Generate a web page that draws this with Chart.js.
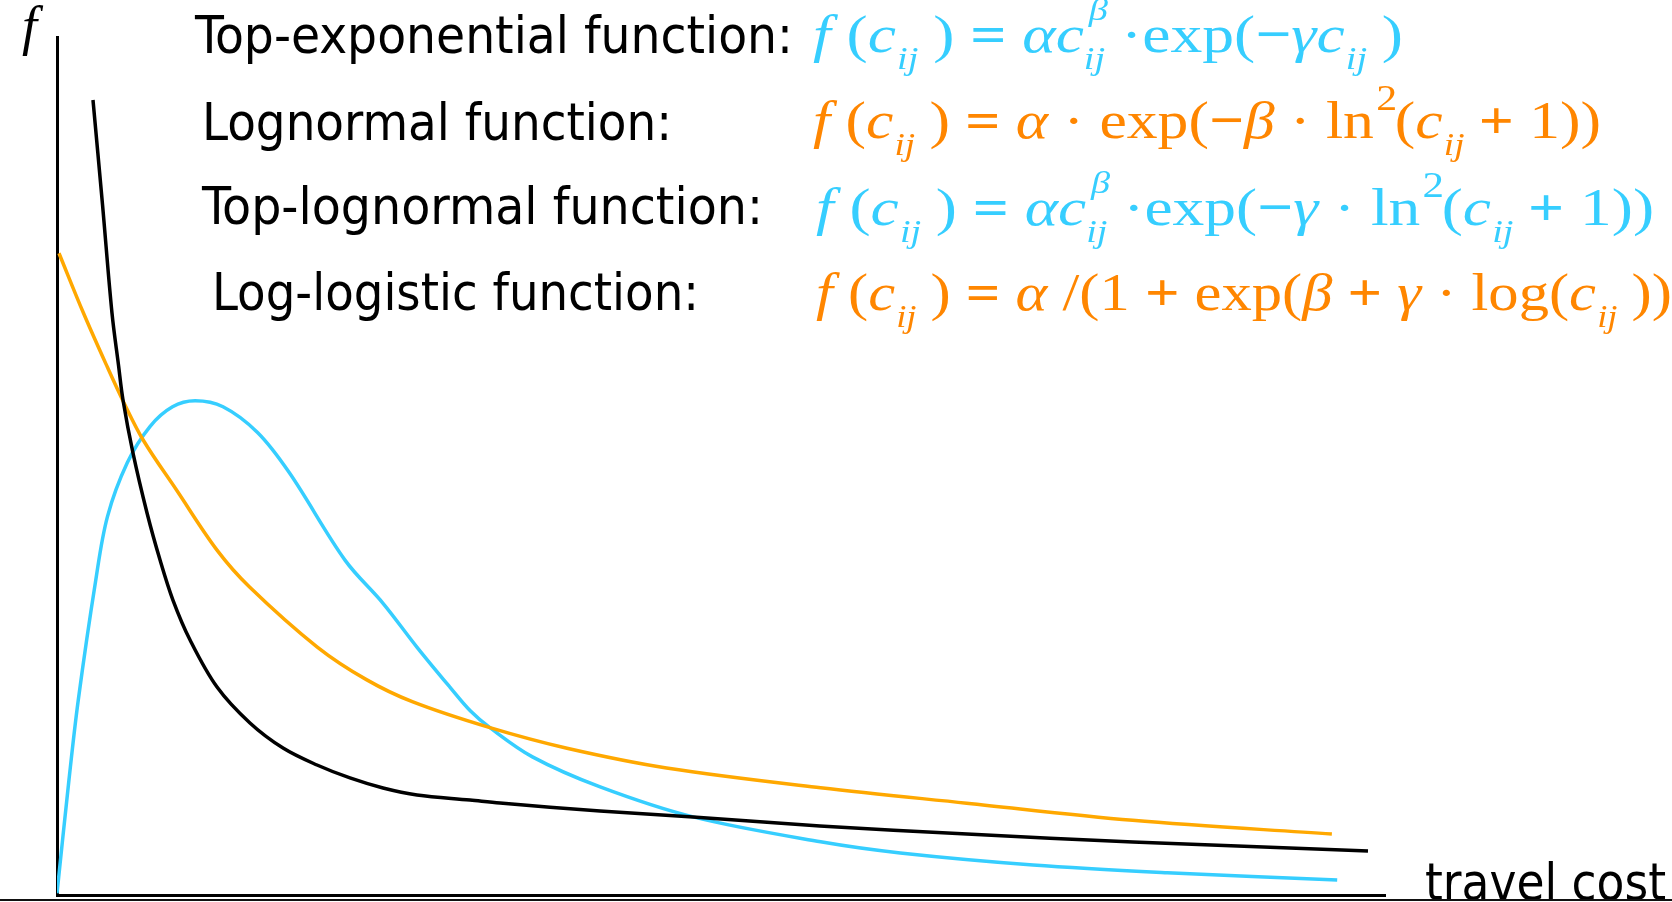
<!DOCTYPE html>
<html>
<head>
<meta charset="utf-8">
<title>Distance decay functions</title>
<script src="https://cdn.jsdelivr.net/npm/chart.js@4.4.1/dist/chart.umd.min.js"></script>
<style>
  html, body { margin: 0; padding: 0; background: #fff; }
  .chart-wrap { position: relative; width: 1672px; height: 902px; overflow: hidden; }
  .chart-wrap::after { content: ''; position: absolute; left: 0; right: 0; top: 899px; height: 2px; background: #111; }
</style>
</head>
<body>
<div class="chart-wrap"><canvas id="decayChart"></canvas></div>
<script>
// Curves: travel cost (x) and f (y), both in 0-100 plot units
const powerCost   = [2.71, 3.43, 4.14, 4.63, 4.97, 5.72, 6.78, 7.76, 8.73, 10.02, 12.05, 14.53, 17.02, 19.58, 22.06, 24.55, 27.11, 31.1, 33.36, 40.89, 47.89, 57.45, 68.52, 81.02, 98.72];
const powerValues = [92.66, 80.42, 67.83, 61.77, 57.69, 51.52, 44.52, 39.04, 34.38, 29.72, 24.24, 20.05, 17.13, 15.15, 13.64, 12.47, 11.66, 11.07, 10.72, 9.79, 9.09, 8.04, 7.11, 6.18, 5.13];

const lognormalCost   = [0.15, 2.0, 3.8, 5.0, 6.5, 9.0, 12.05, 14.5, 19.6, 23.3, 26.8, 32.6, 38.4, 45.9, 57.5, 68.5, 81.0, 96.0];
const lognormalValues = [74.8, 67.8, 61.5, 57.5, 53.0, 47.2, 40.2, 35.9, 28.9, 25.1, 22.5, 19.5, 17.1, 14.8, 12.5, 10.7, 8.7, 7.1];

const topLognormalCost   = [0, 0.9, 1.6, 2.9, 3.8, 5.3, 7.0, 8.7, 10.4, 12.5, 15.1, 17.5, 21.7, 24.55, 27.1, 29.6, 31.1, 32.6, 35.8, 40.9, 47.9, 57.5, 63.5, 73.5, 83.6, 96.4];
const topLognormalValues = [0.2, 13.4, 22.7, 36.5, 44.1, 50.4, 54.6, 56.9, 57.6, 56.9, 53.9, 49.2, 39.0, 34.0, 28.9, 24.2, 21.5, 19.5, 16.1, 12.6, 9.1, 6.2, 4.9, 3.5, 2.6, 1.75];

const functionNames = ['Top-exponential function:', 'Lognormal function:', 'Top-lognormal function:', 'Log-logistic function:'];
const xAxisLabel = 'travel cost';
const yAxisLabel = 'f';

// formula pieces: r = roman, b = heavy operator, i = italic, sub / sup = small, ss = sup over sub
const formulaTopExp = [['i','f'],['r',' ('],['i','c'],['sub','ij'],['r',' )'],['b',' = '],['i','αc'],['ss','β','ij'],['r',' ·exp('],['b','−'],['i','γc'],['sub','ij'],['r',' )']];
const formulaLognormal = [['i','f'],['r',' ('],['i','c'],['sub','ij'],['r',' )'],['b',' = '],['i','α'],['r',' · exp('],['b','−'],['i','β'],['r',' · ln'],['sup','2'],['r','('],['i','c'],['sub','ij'],['b',' + '],['r','1))']];
const formulaTopLognormal = [['i','f'],['r',' ('],['i','c'],['sub','ij'],['r',' )'],['b',' = '],['i','αc'],['ss','β','ij'],['r',' ·exp('],['b','−'],['i','γ'],['r',' · ln'],['sup','2'],['r','('],['i','c'],['sub','ij'],['b',' + '],['r','1))']];
const formulaLogLogistic = [['i','f'],['r',' ('],['i','c'],['sub','ij'],['r',' )'],['b',' = '],['i','α'],['r',' /(1'],['b',' + '],['r','exp('],['i','β'],['b',' + '],['i','γ'],['r',' · log('],['i','c'],['sub','ij'],['r',' )))']];

const BLUE = '#36CEFF';
const ORANGE_TEXT = '#FF8600';
const ORANGE_LINE = '#FFA800';

function toPoints(xs, ys) {
    return xs.map((x, i) => ({ x: x, y: ys[i] }));
}

const sansFont = (size) => size + 'px "DejaVu Sans Condensed", "DejaVu Sans", sans-serif';
const serif = '"Liberation Serif", "Times New Roman", serif';

// draw a single line of text squeezed to a given width
function fitText(ctx, text, x, y, width, font, color) {
    ctx.save();
    ctx.font = font;
    ctx.fillStyle = color;
    ctx.textBaseline = 'alphabetic';
    const w = ctx.measureText(text).width;
    ctx.translate(x, y);
    ctx.scale(width / w, 1);
    ctx.fillText(text, 0, 0);
    ctx.restore();
}

function drawFormula(ctx, parts, x, y, width, size, color) {
    const fonts = {
        r: size + 'px ' + serif,
        b: 'bold ' + size + 'px ' + serif,
        i: 'italic ' + size + 'px ' + serif,
        sub: 'italic ' + Math.round(size * 0.6) + 'px ' + serif,
        sup: Math.round(size * 0.68) + 'px ' + serif,
        beta: 'italic ' + Math.round(size * 0.6) + 'px ' + serif
    };
    const widthOf = (p) => {
        if (p[0] === 'ss') {
            ctx.font = fonts.beta;
            const a = ctx.measureText(p[1]).width;
            ctx.font = fonts.sub;
            return Math.max(a, ctx.measureText(p[2]).width);
        }
        ctx.font = fonts[p[0]];
        return ctx.measureText(p[1]).width;
    };
    ctx.save();
    let total = 0;
    parts.forEach(p => { total += widthOf(p); });
    ctx.translate(x, y);
    ctx.scale(width / total, 1);
    ctx.fillStyle = color;
    let cx = 0;
    parts.forEach(p => {
        const w = widthOf(p);
        if (p[0] === 'sub') {
            ctx.font = fonts.sub;
            ctx.fillText(p[1], cx + 1, size * 0.33);
        } else if (p[0] === 'sup') {
            ctx.font = fonts.sup;
            ctx.fillText(p[1], cx + 2, -size * 0.52);
        } else if (p[0] === 'ss') {
            ctx.font = fonts.beta;
            ctx.fillText(p[1], cx + 4, -size * 0.6);
            ctx.font = fonts.sub;
            ctx.fillText(p[2], cx, size * 0.33);
        } else {
            ctx.font = fonts[p[0]];
            ctx.fillText(p[1], cx, 0);
        }
        cx += w;
    });
    ctx.restore();
}

const textPlugin = {
    id: 'decayText',
    afterDraw(chart) {
        const ctx = chart.ctx;
        // axis labels
        ctx.save();
        ctx.font = 'italic 54px ' + serif;
        ctx.fillStyle = '#000';
        ctx.fillText(yAxisLabel, 22, 44);
        ctx.restore();
        fitText(ctx, xAxisLabel, 1425, 900, 241, sansFont(52), '#000');

        // function names
        const nameX = [195, 202, 202, 212];
        const nameY = [53, 140, 224, 310];
        const nameW = [598, 470, 561, 487];
        functionNames.forEach((name, i) => {
            fitText(ctx, name, nameX[i], nameY[i], nameW[i], sansFont(52), '#000');
        });

        // formulas
        drawFormula(ctx, formulaTopExp, 813, 52, 590, 53, BLUE);
        drawFormula(ctx, formulaLognormal, 813, 138, 788, 53, ORANGE_TEXT);
        drawFormula(ctx, formulaTopLognormal, 816, 225, 838, 53, BLUE);
        drawFormula(ctx, formulaLogLogistic, 816, 310, 876, 53, ORANGE_TEXT);
    }
};

const ctx = document.getElementById('decayChart');
new Chart(ctx, {
    type: 'line',
    data: {
        datasets: [
            {
                label: 'Power',
                data: toPoints(powerCost, powerValues),
                borderColor: '#000'
            },
            {
                label: 'Lognormal',
                data: toPoints(lognormalCost, lognormalValues),
                borderColor: ORANGE_LINE
            },
            {
                label: 'Top-lognormal',
                data: toPoints(topLognormalCost, topLognormalValues),
                borderColor: BLUE
            }
        ]
    },
    options: {
        responsive: true,
        maintainAspectRatio: false,
        animation: false,
        layout: {
            padding: { left: 57, right: 287, top: 37, bottom: 7 }
        },
        elements: {
            point: { radius: 0 },
            line: { borderWidth: 3.5, tension: 0.35, fill: false, borderCapStyle: 'butt' }
        },
        plugins: {
            legend: { display: false },
            tooltip: { enabled: false }
        },
        scales: {
            x: {
                type: 'linear',
                min: 0,
                max: 100,
                grid: { display: false, drawTicks: false },
                ticks: { display: false },
                border: { display: true, color: '#000', width: 3 }
            },
            y: {
                type: 'linear',
                min: 0,
                max: 100,
                grid: { display: false, drawTicks: false },
                ticks: { display: false },
                border: { display: true, color: '#000', width: 3 }
            }
        }
    },
    plugins: [textPlugin]
});
</script>
</body>
</html>
